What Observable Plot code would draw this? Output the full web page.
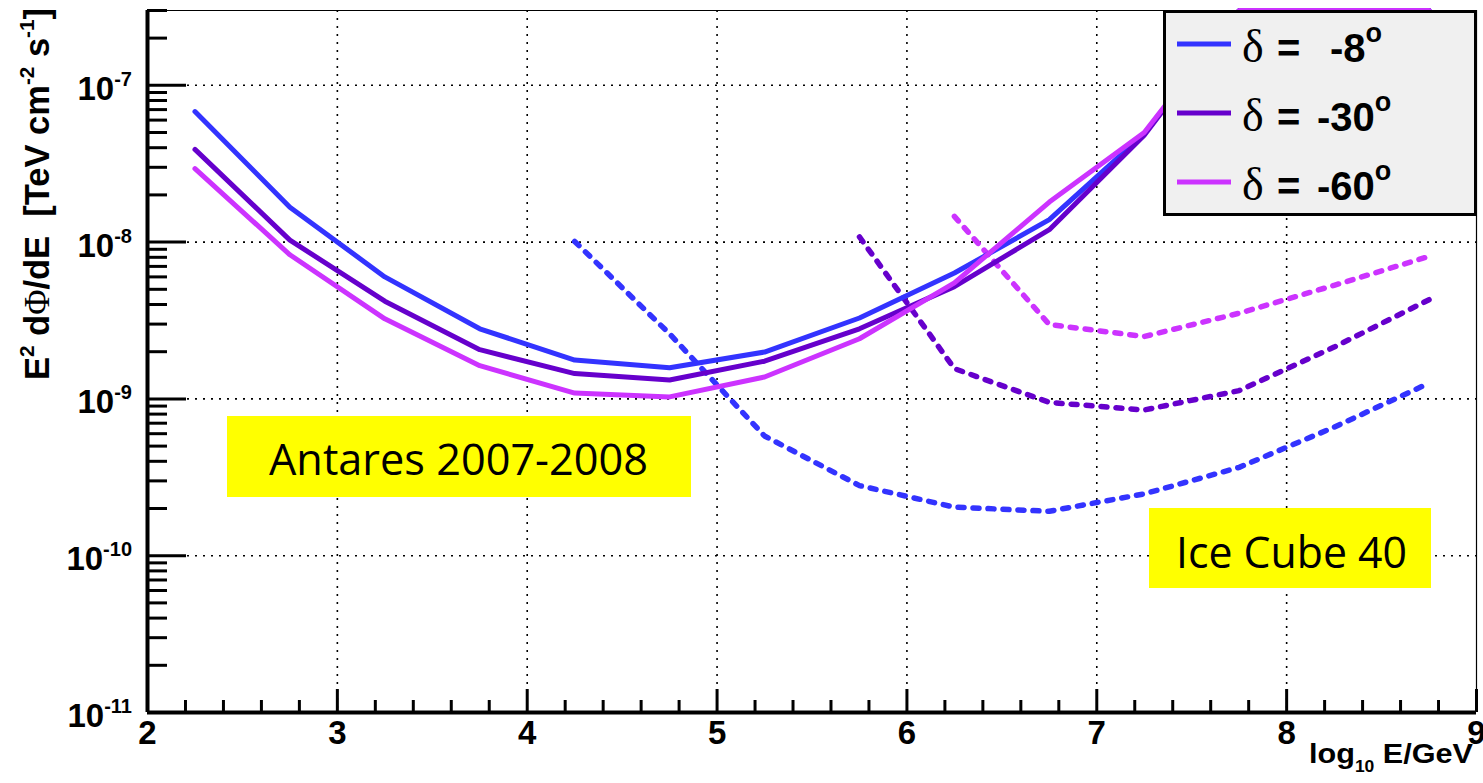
<!DOCTYPE html>
<html><head><meta charset="utf-8">
<script src="https://cdn.jsdelivr.net/npm/d3@7"></script>
<script src="https://cdn.jsdelivr.net/npm/@observablehq/plot@0.6"></script>
<style>
html,body{margin:0;padding:0;background:#fff;}
#chart{position:relative;width:1483px;height:783px;overflow:hidden;}
</style></head><body><div id="chart"></div>
<script>
// ---- data ----
const declinations = [-8, -30, -60];
const seriesColors = ["#3333ff", "#6600cc", "#cc33ff"];

// Antares 2007-2008 (solid), log10(E/GeV) bin centres
const antaresEnergy = [2.25, 2.75, 3.25, 3.75, 4.25, 4.75, 5.25, 5.75, 6.25, 6.75, 7.25, 7.75, 8.25, 8.75];
const antaresDec8  = [6.8e-8, 1.67e-8, 6.0e-9, 2.8e-9, 1.77e-9, 1.58e-9, 1.99e-9, 3.28e-9, 6.35e-9, 1.39e-8, 4.9e-8, 4.5e-7, 1.5e-6, 4e-6];
const antaresDec30 = [3.9e-8, 1.03e-8, 4.2e-9, 2.06e-9, 1.45e-9, 1.32e-9, 1.74e-9, 2.8e-9, 5.2e-9, 1.2e-8, 4.8e-8, 4.5e-7, 1.5e-6, 4e-6];
const antaresDec60 = [2.94e-8, 8.3e-9, 3.24e-9, 1.63e-9, 1.09e-9, 1.03e-9, 1.38e-9, 2.42e-9, 5.5e-9, 1.8e-8, 5.0e-8, 4.5e-7, 1.5e-6, 4e-6];

// IceCube 40 (dotted)
const icecubeEnergy8  = [4.25, 4.75, 5.25, 5.75, 6.25, 6.75, 7.25, 7.75, 8.25, 8.75];
const icecubeDec8     = [1.01e-8, 2.6e-9, 5.8e-10, 2.8e-10, 2.04e-10, 1.92e-10, 2.48e-10, 3.66e-10, 6.6e-10, 1.26e-9];
const icecubeEnergy30 = [5.75, 6.25, 6.75, 7.25, 7.75, 8.25, 8.75];
const icecubeDec30    = [1.08e-8, 1.56e-9, 9.5e-10, 8.5e-10, 1.13e-9, 2.14e-9, 4.29e-9];
const icecubeEnergy60 = [6.25, 6.75, 7.25, 7.75, 8.25, 8.75];
const icecubeDec60    = [1.46e-8, 2.98e-9, 2.5e-9, 3.52e-9, 5.3e-9, 8.11e-9];

// axes
const xMajorTicks = [2, 3, 4, 5, 6, 7, 8, 9];
const xGridTicks = [3, 4, 5, 6, 7, 8];
const yMajorTicks = [1e-11, 1e-10, 1e-9, 1e-8, 1e-7];
const yGridTicks = [1e-10, 1e-9, 1e-8, 1e-7];
const yExponents = ["-11", "-10", "-9", "-8", "-7"];
const annotationLabels = ["Antares 2007-2008", "Ice Cube 40"];

// ---- build tables ----
const toRows = (xs, vs, s) => xs.map((e, i) => ({e, v: vs[i], s}));
const solidRows = [
  ...toRows(antaresEnergy, antaresDec8, 0),
  ...toRows(antaresEnergy, antaresDec30, 1),
  ...toRows(antaresEnergy, antaresDec60, 2)
];
const dottedRows = [
  ...toRows(icecubeEnergy8, icecubeDec8, 0),
  ...toRows(icecubeEnergy30, icecubeDec30, 1),
  ...toRows(icecubeEnergy60, icecubeDec60, 2)
];
const xMinorTicks = d3.range(2, 9.001, 0.2).map(v => +v.toFixed(2)).filter(v => Math.abs(v - Math.round(v)) > 1e-6);
const yMinorTicks = [];
for (let k = -11; k <= -7; k++) for (let m = 2; m <= 9; m++) { const v = m * Math.pow(10, k); if (v <= 3.0e-7) yMinorTicks.push(v); }

const W = 1483, H = 783, mL = 147, mR = 7, mT = 10, mB = 71;
const pW = W - mL - mR, pH = H - mT - mB;
const gridStyle = {stroke: "black", strokeWidth: 1.6, strokeDasharray: "2,6"};

const chart = Plot.plot({
  width: W, height: H,
  marginLeft: mL, marginRight: mR, marginTop: mT, marginBottom: mB,
  style: {background: "white", fontFamily: "'Liberation Sans', Arial, sans-serif", overflow: "visible"},
  x: {domain: [2, 9], axis: null},
  y: {type: "log", domain: [1e-11, 3.0e-7], clamp: true, axis: null},
  marks: [
    Plot.ruleX(xGridTicks, {x: d => d, ...gridStyle}),
    Plot.ruleY(yGridTicks, {y: d => d, ...gridStyle}),
    Plot.line(dottedRows, {x: "e", y: "v", z: "s", stroke: d => seriesColors[d.s], strokeWidth: 5.5, strokeDasharray: "6,9"}),
    Plot.line(solidRows, {x: "e", y: "v", z: "s", stroke: d => seriesColors[d.s], strokeWidth: 5, strokeLinejoin: "miter"}),
    Plot.tickX(xMajorTicks, {x: d => d, insetTop: pH - 23, stroke: "black", strokeWidth: 3}),
    Plot.tickX(xMinorTicks, {x: d => d, insetTop: pH - 12, stroke: "black", strokeWidth: 3}),
    Plot.tickY(yMajorTicks, {y: d => d, insetRight: pW - 39, stroke: "black", strokeWidth: 3}),
    Plot.tickY(yMinorTicks, {y: d => d, insetRight: pW - 20, stroke: "black", strokeWidth: 3}),
    Plot.ruleX([9], {x: d => d, stroke: "black", strokeWidth: 1.2}),
    Plot.ruleY([3.0e-7], {y: d => d, stroke: "black", strokeWidth: 1.2}),
    Plot.ruleX([2], {x: d => d, stroke: "black", strokeWidth: 4}),
    Plot.ruleY([1e-11], {y: d => d, stroke: "black", strokeWidth: 4}),
    Plot.axisX(xMajorTicks, {anchor: "bottom", tickSize: 0, tickPadding: 8, fontSize: 33, fontWeight: "bold", fill: "black", label: null, tickFormat: d => String(d)})
  ]
});
document.getElementById("chart").appendChild(chart);

const svg = d3.select(chart);
const ys = chart.scale("y");
const fontSans = "'Liberation Sans', Arial, sans-serif";
const fontSerif = "'Liberation Serif', 'Times New Roman', serif";

// y tick labels 10^k
yMajorTicks.forEach((v, i) => {
  const t = svg.append("text").attr("x", 132).attr("y", ys.apply(v) + 15)
    .attr("text-anchor", "end").attr("font-family", fontSans).attr("font-weight", "bold").attr("font-size", 33).attr("fill", "black");
  t.append("tspan").text("10");
  t.append("tspan").attr("dy", -14).attr("font-size", 20).text(yExponents[i]);
});

// x title
{
  const t = svg.append("text").attr("x", 1309).attr("y", 763).attr("text-anchor", "start")
    .attr("font-family", fontSans).attr("font-weight", "bold").attr("font-size", 28).attr("fill", "black")
    .attr("textLength", 164).attr("lengthAdjust", "spacingAndGlyphs");
  t.append("tspan").text("log");
  t.append("tspan").attr("dy", 9).attr("font-size", 16).text("10");
  t.append("tspan").attr("dy", -9).text(" E/GeV");
}

// y title
{
  const t = svg.append("text").attr("transform", "translate(49,380) rotate(-90)").attr("text-anchor", "start")
    .attr("font-family", fontSans).attr("font-weight", "bold").attr("font-size", 35).attr("fill", "black")
    .attr("textLength", 372).attr("lengthAdjust", "spacingAndGlyphs").style("white-space", "pre");
  t.append("tspan").text("E");
  t.append("tspan").attr("dy", -15).attr("font-size", 21).text("2");
  t.append("tspan").attr("dy", 15).text(" d");
  t.append("tspan").attr("font-family", fontSerif).attr("font-weight", "normal").text("Φ");
  t.append("tspan").text("/dE  [TeV cm");
  t.append("tspan").attr("dy", -15).attr("font-size", 21).text("-2");
  t.append("tspan").attr("dy", 15).text(" s");
  t.append("tspan").attr("dy", -15).attr("font-size", 21).text("-1");
  t.append("tspan").attr("dy", 15).text("]");
}

// annotation boxes
const boxes = [
  {x0: 227, y0: 416, x1: 691, y1: 497, tx: 269, ty: 475, len: 379, label: annotationLabels[0]},
  {x0: 1149, y0: 508, x1: 1431, y1: 588, tx: 1176, ty: 568, len: 231, label: annotationLabels[1]}
];
const gBoxes = svg.insert("g", "g[aria-label='line']");
boxes.forEach(b => {
  gBoxes.append("rect").attr("x", b.x0).attr("y", b.y0).attr("width", b.x1 - b.x0).attr("height", b.y1 - b.y0).attr("fill", "#ffff00");
  gBoxes.append("text").attr("x", b.tx).attr("y", b.ty).attr("text-anchor", "start").attr("font-family", "'Open Sans', Lato, sans-serif")
    .attr("font-size", 43).attr("fill", "black").attr("textLength", b.len).attr("lengthAdjust", "spacingAndGlyphs").text(b.label);
});

// legend
{
  const g = svg.append("g").attr("text-anchor", "start");
  g.append("rect").attr("x", 1164.5).attr("y", 11.5).attr("width", 311).attr("height", 203)
    .attr("fill", "#f0f0f0").attr("stroke", "black").attr("stroke-width", 3);
  const rowY = [44, 113, 182];
  const valX = [1330, 1317, 1317];
  declinations.forEach((d, i) => {
    g.append("line").attr("x1", 1177).attr("x2", 1231).attr("y1", rowY[i]).attr("y2", rowY[i])
      .attr("stroke", seriesColors[i]).attr("stroke-width", 5);
    const by = rowY[i] + 18;
    g.append("text").attr("x", 1242).attr("y", by).attr("font-family", fontSerif).attr("font-size", 46).attr("fill", "black").text("δ");
    g.append("text").attr("x", 1277).attr("y", by).attr("font-family", fontSans).attr("font-weight", "bold").attr("font-size", 40).attr("fill", "black").text("=");
    const t = g.append("text").attr("x", valX[i]).attr("y", by).attr("font-family", fontSans).attr("font-weight", "bold").attr("font-size", 40).attr("fill", "black");
    t.append("tspan").text(String(d));
    t.append("tspan").attr("dy", -20).attr("font-size", 27).text("o");
  });
}
</script>
</body></html>
